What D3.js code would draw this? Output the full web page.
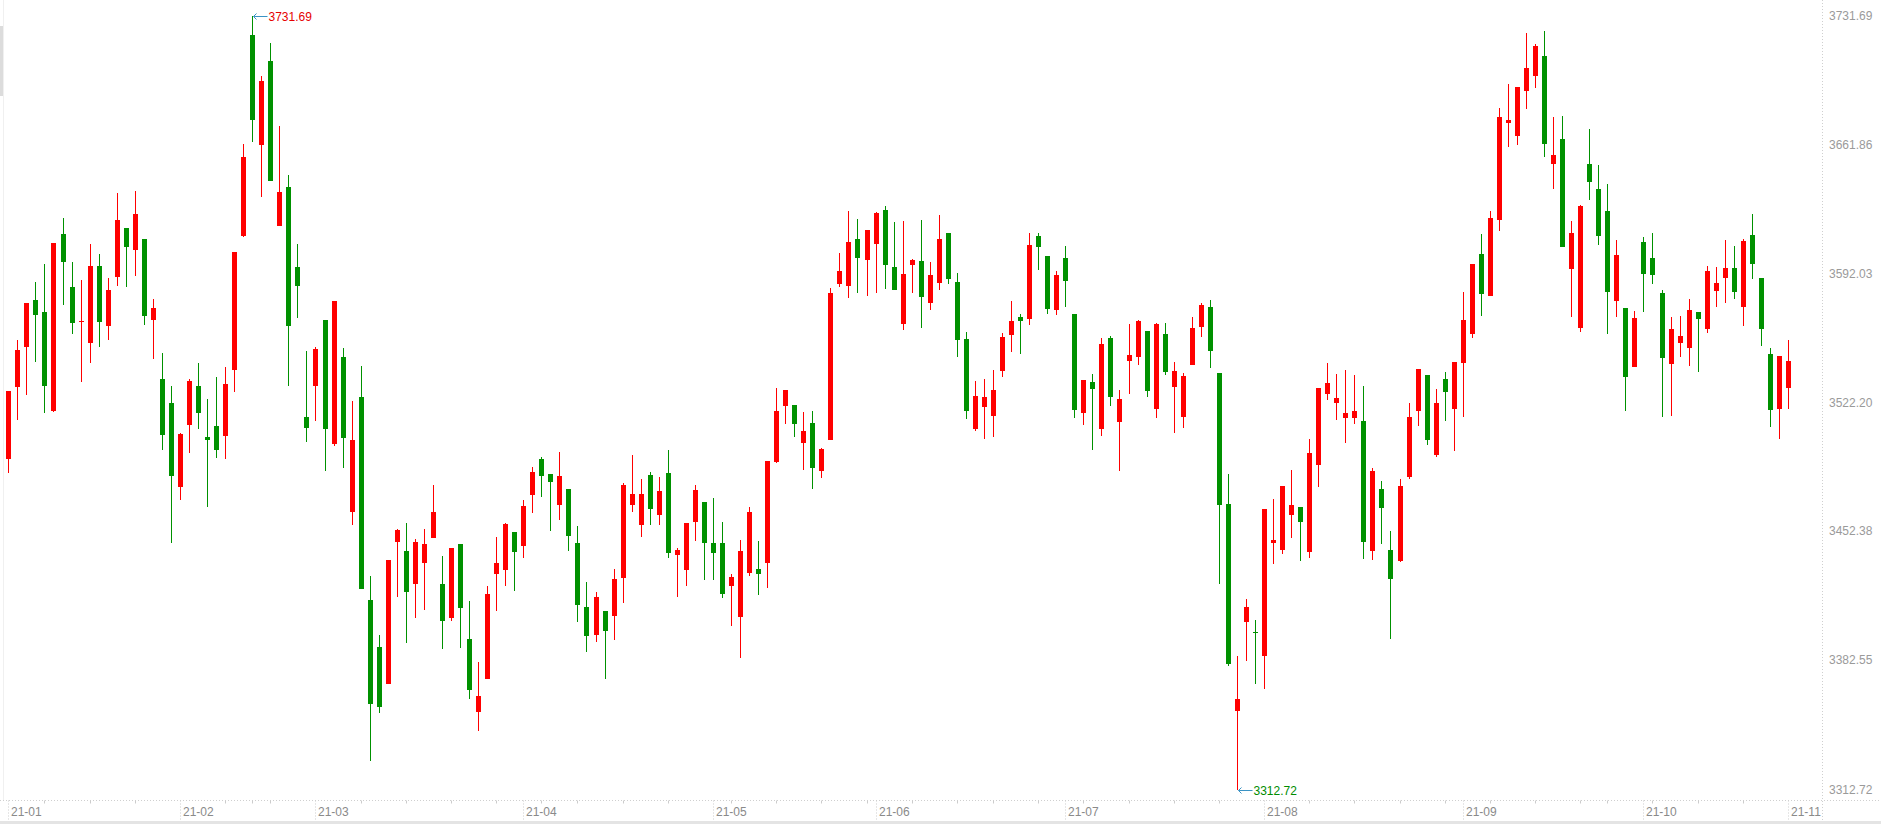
<!DOCTYPE html>
<html>
<head>
<meta charset="utf-8">
<script src="https://cdn.jsdelivr.net/npm/d3@7/dist/d3.min.js"></script>
<style>
  html, body { margin: 0; padding: 0; background: #fff; overflow: hidden; }
  svg { display: block; font-family: "Liberation Sans", Arial, sans-serif; }
</style>
</head>
<body>
<svg id="chart" width="1881" height="824"></svg>
<script>
// trading days per month, Jan .. Nov 2021
var monthDays = [
  [5,6,7,8,11,12,13,14,15,18,19,20,21,22,25,26,27,28,29],
  [1,2,3,4,5,8,9,10,18,19,22,23,24,25,26],
  [1,2,3,4,5,8,9,10,11,12,15,16,17,18,19,22,23,24,25,26,29,30,31],
  [1,2,6,7,8,9,12,13,14,15,16,19,20,21,22,23,26,27,28,29,30],
  [6,7,10,11,12,13,14,17,18,19,20,21,24,25,26,27,28,31],
  [1,2,3,4,7,8,9,10,11,15,16,17,18,21,22,23,24,25,28,29,30],
  [1,2,5,6,7,8,9,12,13,14,15,16,19,20,21,22,23,26,27,28,29,30],
  [2,3,4,5,6,9,10,11,12,13,16,17,18,19,20,23,24,25,26,27,30,31],
  [1,2,3,6,7,8,9,10,13,14,15,16,17,22,23,24,27,28,29,30],
  [8,11,12,13,14,15,18,19,20,21,22,25,26,27,28,29],
  [1]
];
var monthLabels = ["21-01","21-02","21-03","21-04","21-05","21-06","21-07","21-08","21-09","21-10","21-11"];

var open = [
  3491.79,3530.79,3552.39,3577.69,3571.19,3517.77,3613.42,3584.72,3565.78,3554.59,
  3596.09,3563.78,3590.32,3616.66,3604.91,3610.71,3567.03,3534.93,3521.94,3476.31,
  3510.19,3531.14,3503.75,3509.59,3504.24,3539.63,3612.22,3721.19,3661.37,3707.11,
  3617.53,3638.80,3595.44,3514.36,3531.36,3566.76,3500.01,3546.78,3463.04,3525.26,
  3415.19,3389.64,3369.72,3446.86,3441.82,3424.12,3435.43,3449.02,3423.96,3405.72,
  3445.62,3394.19,3354.84,3372.70,3429.26,3431.70,3452.11,3444.69,3472.36,3491.62,
  3483.50,3466.89,3475.39,3446.16,3411.51,3396.52,3409.35,3406.80,3427.37,3466.89,
  3456.06,3482.96,3461.47,3484.05,3439.83,3431.70,3457.68,3468.35,3446.16,3446.16,
  3423.05,3406.26,3429.80,3432.08,3435.43,3490.16,3520.48,3520.86,3500.45,3511.09,
  3485.13,3501.91,3586.35,3585.44,3610.71,3599.50,3608.17,3626.41,3595.55,3564.86,
  3596.83,3598.80,3576.24,3587.05,3613.96,3587.40,3556.58,3508.02,3519.93,3515.06,
  3539.42,3558.85,3568.49,3567.14,3612.39,3601.56,3572.45,3600.37,3570.06,3516.74,
  3533.25,3508.08,3557.06,3511.81,3544.88,3547.05,3560.80,3518.90,3559.23,3530.33,
  3514.58,3542.72,3563.18,3573.90,3538.17,3467.26,3355.42,3403.55,3397.98,3385.15,
  3446.32,3442.53,3461.47,3465.64,3441.44,3488.54,3526.97,3522.10,3513.98,3513.98,
  3512.19,3441.99,3475.39,3442.37,3436.58,3482.04,3517.77,3537.09,3494.01,3535.04,
  3518.90,3543.75,3559.50,3602.59,3579.92,3621.21,3673.23,3666.63,3691.09,3699.05,
  3709.71,3651.04,3664.90,3594.63,3562.75,3651.20,3637.72,3625.87,3577.31,3573.36,
  3541.59,3609.09,3600.43,3581.47,3543.21,3554.58,3551.87,3571.19,3562.16,3582.72,
  3589.76,3595.01,3574.06,3612.87,3589.60,3548.46,3518.85,3530.22
];
var high = [
  3528.43,3556.04,3576.07,3587.40,3597.18,3608.54,3622.08,3598.26,3588.52,3608.00,
  3602.59,3589.60,3635.61,3616.66,3636.69,3610.71,3578.23,3549.00,3531.14,3505.70,
  3534.93,3543.59,3523.94,3535.91,3541.48,3603.67,3662.19,3731.69,3698.89,3716.70,
  3671.77,3645.41,3607.95,3549.98,3552.14,3566.76,3577.09,3551.60,3522.86,3542.02,
  3428.51,3396.30,3437.01,3453.73,3456.98,3448.32,3453.73,3477.56,3439.12,3443.46,
  3445.62,3414.76,3381.74,3422.88,3449.40,3456.98,3452.11,3469.43,3487.30,3492.70,
  3483.50,3495.41,3475.39,3455.36,3425.01,3419.63,3409.35,3432.08,3478.48,3493.78,
  3480.80,3484.59,3481.88,3496.49,3443.46,3456.98,3477.56,3468.35,3470.51,3457.52,
  3429.38,3447.78,3465.64,3447.24,3490.54,3530.06,3529.00,3520.86,3517.06,3517.61,
  3497.58,3584.18,3603.13,3625.87,3621.53,3615.58,3625.32,3628.57,3619.75,3620.29,
  3599.88,3620.99,3598.26,3623.70,3613.96,3592.31,3560.37,3533.85,3534.93,3539.80,
  3559.83,3577.15,3570.06,3613.96,3613.96,3601.56,3593.28,3606.87,3570.06,3534.44,
  3537.58,3557.06,3558.25,3528.92,3564.75,3566.92,3560.80,3565.13,3565.13,3544.08,
  3538.17,3568.49,3575.96,3577.69,3538.17,3483.50,3384.99,3415.84,3404.47,3464.56,
  3469.97,3477.01,3485.67,3465.64,3502.45,3530.06,3543.59,3537.63,3539.80,3537.09,
  3531.14,3486.75,3479.71,3452.65,3480.80,3521.94,3540.34,3537.09,3529.52,3538.61,
  3544.13,3582.13,3597.12,3613.42,3625.76,3681.62,3694.72,3692.99,3722.22,3716.32,
  3723.35,3676.64,3677.23,3620.45,3629.22,3670.20,3650.82,3640.48,3610.17,3573.36,
  3571.73,3611.79,3613.96,3583.10,3568.49,3569.03,3578.23,3571.19,3596.09,3595.55,
  3610.17,3606.92,3610.71,3624.24,3589.60,3551.71,3547.38,3556.04
];
var low = [
  3484.21,3512.73,3526.28,3544.13,3516.69,3517.23,3574.98,3559.29,3533.19,3543.75,
  3552.39,3556.04,3585.44,3584.90,3590.86,3564.32,3545.91,3496.65,3446.32,3469.59,
  3495.03,3508.02,3465.42,3492.27,3491.51,3527.89,3611.68,3663.27,3633.44,3642.26,
  3617.53,3531.36,3568.05,3500.56,3511.98,3484.86,3498.66,3486.97,3456.11,3421.04,
  3327.99,3354.30,3369.72,3417.09,3392.19,3405.72,3410.05,3449.02,3388.94,3404.09,
  3389.48,3361.87,3344.55,3372.70,3409.51,3423.05,3420.34,3438.20,3462.56,3471.05,
  3452.81,3458.77,3441.99,3403.55,3387.30,3392.73,3372.70,3393.65,3413.84,3463.10,
  3449.57,3456.06,3456.06,3438.20,3417.09,3423.05,3447.40,3426.29,3426.29,3416.55,
  3401.39,3384.07,3428.18,3418.19,3421.69,3489.62,3510.73,3503.69,3485.83,3475.39,
  3481.34,3501.91,3584.72,3578.77,3581.74,3579.92,3581.55,3583.82,3583.28,3561.61,
  3581.55,3562.69,3572.45,3583.28,3586.51,3546.60,3513.43,3506.94,3502.61,3503.69,
  3536.17,3549.81,3548.62,3564.37,3594.09,3570.27,3569.30,3573.63,3513.98,3510.25,
  3496.65,3504.34,3520.48,3484.86,3526.97,3542.72,3525.40,3513.98,3537.20,3505.92,
  3508.67,3542.72,3557.88,3541.05,3424.12,3379.74,3312.72,3382.44,3369.99,3367.29,
  3434.95,3440.36,3449.02,3436.58,3438.20,3476.63,3523.72,3512.90,3500.45,3510.73,
  3437.66,3437.12,3445.78,3394.36,3436.04,3480.90,3509.59,3498.93,3492.87,3512.46,
  3496.12,3514.52,3557.22,3569.19,3579.92,3614.77,3660.73,3661.86,3681.24,3692.61,
  3655.21,3637.94,3606.60,3568.65,3560.10,3632.04,3607.73,3559.45,3568.65,3517.77,
  3541.59,3571.36,3586.51,3514.52,3515.06,3546.60,3542.13,3538.88,3560.00,3574.06,
  3576.23,3578.39,3563.78,3589.22,3552.96,3509.11,3502.61,3518.85
];
var close = [
  3528.43,3550.62,3576.07,3569.57,3531.14,3608.54,3598.43,3565.40,3566.32,3596.09,
  3565.94,3583.10,3620.99,3606.56,3624.24,3569.19,3573.36,3504.78,3482.58,3505.16,
  3533.85,3516.69,3501.91,3496.28,3532.16,3603.67,3654.99,3674.96,3696.23,3642.26,
  3636.15,3563.83,3585.11,3508.51,3551.05,3507.97,3577.09,3502.99,3501.86,3421.04,
  3359.11,3357.49,3437.01,3453.19,3419.80,3446.70,3445.62,3462.93,3404.09,3443.46,
  3411.13,3366.75,3363.34,3418.45,3435.33,3456.44,3441.44,3466.18,3484.59,3482.58,
  3479.36,3482.42,3450.11,3412.76,3395.98,3416.92,3398.68,3426.67,3477.56,3472.58,
  3472.58,3464.72,3474.30,3440.90,3442.37,3456.98,3474.84,3446.32,3440.90,3418.73,
  3427.75,3441.82,3462.93,3429.26,3490.54,3517.61,3529.00,3510.73,3506.78,3486.75,
  3497.04,3581.47,3593.39,3609.09,3600.59,3615.58,3624.78,3596.83,3583.28,3591.77,
  3599.34,3579.38,3591.23,3610.71,3589.22,3556.20,3517.77,3525.73,3525.18,3529.00,
  3557.66,3566.32,3566.54,3607.46,3606.11,3573.03,3591.12,3588.19,3518.31,3534.44,
  3529.73,3553.93,3525.40,3523.99,3547.81,3566.32,3528.16,3564.75,3538.98,3539.15,
  3536.61,3562.59,3574.98,3550.25,3466.89,3380.82,3361.71,3411.51,3397.27,3464.56,
  3447.78,3477.01,3466.73,3457.68,3494.87,3530.06,3532.76,3524.64,3516.53,3517.61,
  3446.86,3485.13,3465.26,3426.83,3477.01,3514.36,3540.34,3501.64,3521.94,3527.62,
  3544.13,3566.92,3597.12,3581.15,3622.19,3676.64,3675.12,3692.99,3703.27,3715.18,
  3662.24,3656.18,3606.60,3614.01,3628.63,3641.73,3612.49,3582.18,3602.05,3536.17,
  3567.95,3591.93,3591.39,3546.46,3562.00,3558.21,3572.27,3567.57,3593.39,3586.89,
  3595.01,3582.18,3609.63,3597.34,3562.16,3518.31,3547.38,3544.67
];
var yTicks = [3312.72, 3382.55, 3452.38, 3522.20, 3592.03, 3661.86, 3731.69];

var UP = "#ff0000", DOWN = "#009100";
var W = 1881, H = 824;
var axisX = 1822.5, axisY = 800.5;

var days = [];
monthDays.forEach(function(list, m) {
  list.forEach(function(d) { days.push({ m: m, d: d, date: new Date(2021, m, d) }); });
});
var keys = days.map(function(o) { return monthLabels[o.m] + "-" + (o.d < 10 ? "0" : "") + o.d; });

var x = d3.scaleBand().domain(keys).range([3.8, 1792.5]).padding(0);
var cx = function(i) { return x(keys[i]) + x.bandwidth() / 2; };
var y = d3.scaleLinear()
  .domain([d3.min(low), d3.max(high)])
  .range([789.5, 15.5]);

var svg = d3.select("#chart");

// frame: faint left edge, dotted separators, bottom strip
svg.append("line").attr("x1", 3.5).attr("x2", 3.5).attr("y1", 0).attr("y2", axisY)
  .attr("stroke", "#f0f0f0");
svg.append("rect").attr("x", 0).attr("y", 26).attr("width", 3).attr("height", 70).attr("fill", "#dcdcdc");
svg.append("line").attr("x1", axisX).attr("x2", axisX).attr("y1", 0).attr("y2", 821)
  .attr("stroke", "#cfcfcf").attr("stroke-dasharray", "1,2");
svg.append("line").attr("x1", 0).attr("x2", W).attr("y1", axisY).attr("y2", axisY)
  .attr("stroke", "#cfcfcf").attr("stroke-dasharray", "1,2");
svg.append("rect").attr("x", 0).attr("y", 821).attr("width", W).attr("height", 3).attr("fill", "#e4e4e4");

// right axis
svg.append("g").selectAll("text").data(yTicks).join("text")
  .attr("x", 1829).attr("y", function(d) { return y(d); })
  .attr("dominant-baseline", "central")
  .attr("font-size", 12).attr("fill", "#9a9a9a")
  .text(function(d) { return d.toFixed(2); });

// bottom axis: month ticks and labels, weekly minor ticks
var monthStart = monthLabels.map(function(lbl, m) {
  for (var i = 0; i < days.length; i++) if (days[i].m === m) return i;
});
var weekStart = [];
for (var i = 1; i < days.length; i++) {
  var gap = (days[i].date - days[i - 1].date) / 864e5;
  if ((days[i].date.getDay() < days[i - 1].date.getDay() || gap >= 7) && monthStart.indexOf(i) < 0) weekStart.push(i);
}
var gx = svg.append("g");
gx.selectAll("line.minor").data(weekStart).join("line").attr("class", "minor")
  .attr("x1", function(i) { return Math.round(cx(i)) + 0.5; })
  .attr("x2", function(i) { return Math.round(cx(i)) + 0.5; })
  .attr("y1", axisY).attr("y2", axisY + 3).attr("stroke", "#cccccc");
gx.selectAll("line.month").data(monthStart).join("line").attr("class", "month")
  .attr("x1", function(i) { return Math.round(cx(i)) + 0.5; })
  .attr("x2", function(i) { return Math.round(cx(i)) + 0.5; })
  .attr("y1", axisY).attr("y2", 821)
  .attr("stroke", "#cccccc").attr("stroke-dasharray", "1,2");
gx.selectAll("text").data(monthStart).join("text")
  .attr("x", function(i) { return Math.round(cx(i)) + 3; })
  .attr("y", 812).attr("dominant-baseline", "central")
  .attr("font-size", 12).attr("fill", "#8a8a8a")
  .text(function(i, k) { return monthLabels[k]; });

// candles
var idx = d3.range(keys.length);
var color = function(i) { return close[i] >= open[i] ? UP : DOWN; };
var candles = svg.append("g").attr("shape-rendering", "crispEdges");
candles.selectAll("line").data(idx).join("line")
  .attr("x1", function(i) { return Math.round(cx(i)) + 0.5; })
  .attr("x2", function(i) { return Math.round(cx(i)) + 0.5; })
  .attr("y1", function(i) { return y(high[i]); })
  .attr("y2", function(i) { return y(low[i]); })
  .attr("stroke", color);
candles.selectAll("rect").data(idx).join("rect")
  .attr("x", function(i) { return Math.round(cx(i)) - 2; })
  .attr("width", 5)
  .attr("y", function(i) { return y(Math.max(open[i], close[i])); })
  .attr("height", function(i) { return Math.max(1, Math.abs(y(open[i]) - y(close[i]))); })
  .attr("fill", color);

// max / min markers
function marker(i, v, fill) {
  var px = Math.round(cx(i)) + 0.5, py = Math.round(y(v)) + 0.5;
  var g = svg.append("g");
  g.append("path")
    .attr("d", "M" + (px + 15) + "," + py + "H" + (px + 1) + "M" + (px + 4) + "," + (py - 3) + "L" + (px + 1) + "," + py + "L" + (px + 4) + "," + (py + 3))
    .attr("fill", "none").attr("stroke", "#3b93c4");
  g.append("text").attr("x", px + 16).attr("y", py)
    .attr("dominant-baseline", "central").attr("font-size", 12).attr("fill", fill)
    .text(v.toFixed(2));
}
var iMax = d3.maxIndex(high), iMin = d3.minIndex(low);
marker(iMax, high[iMax], "#e60000");
marker(iMin, low[iMin], "#008c00");
</script>
</body>
</html>
